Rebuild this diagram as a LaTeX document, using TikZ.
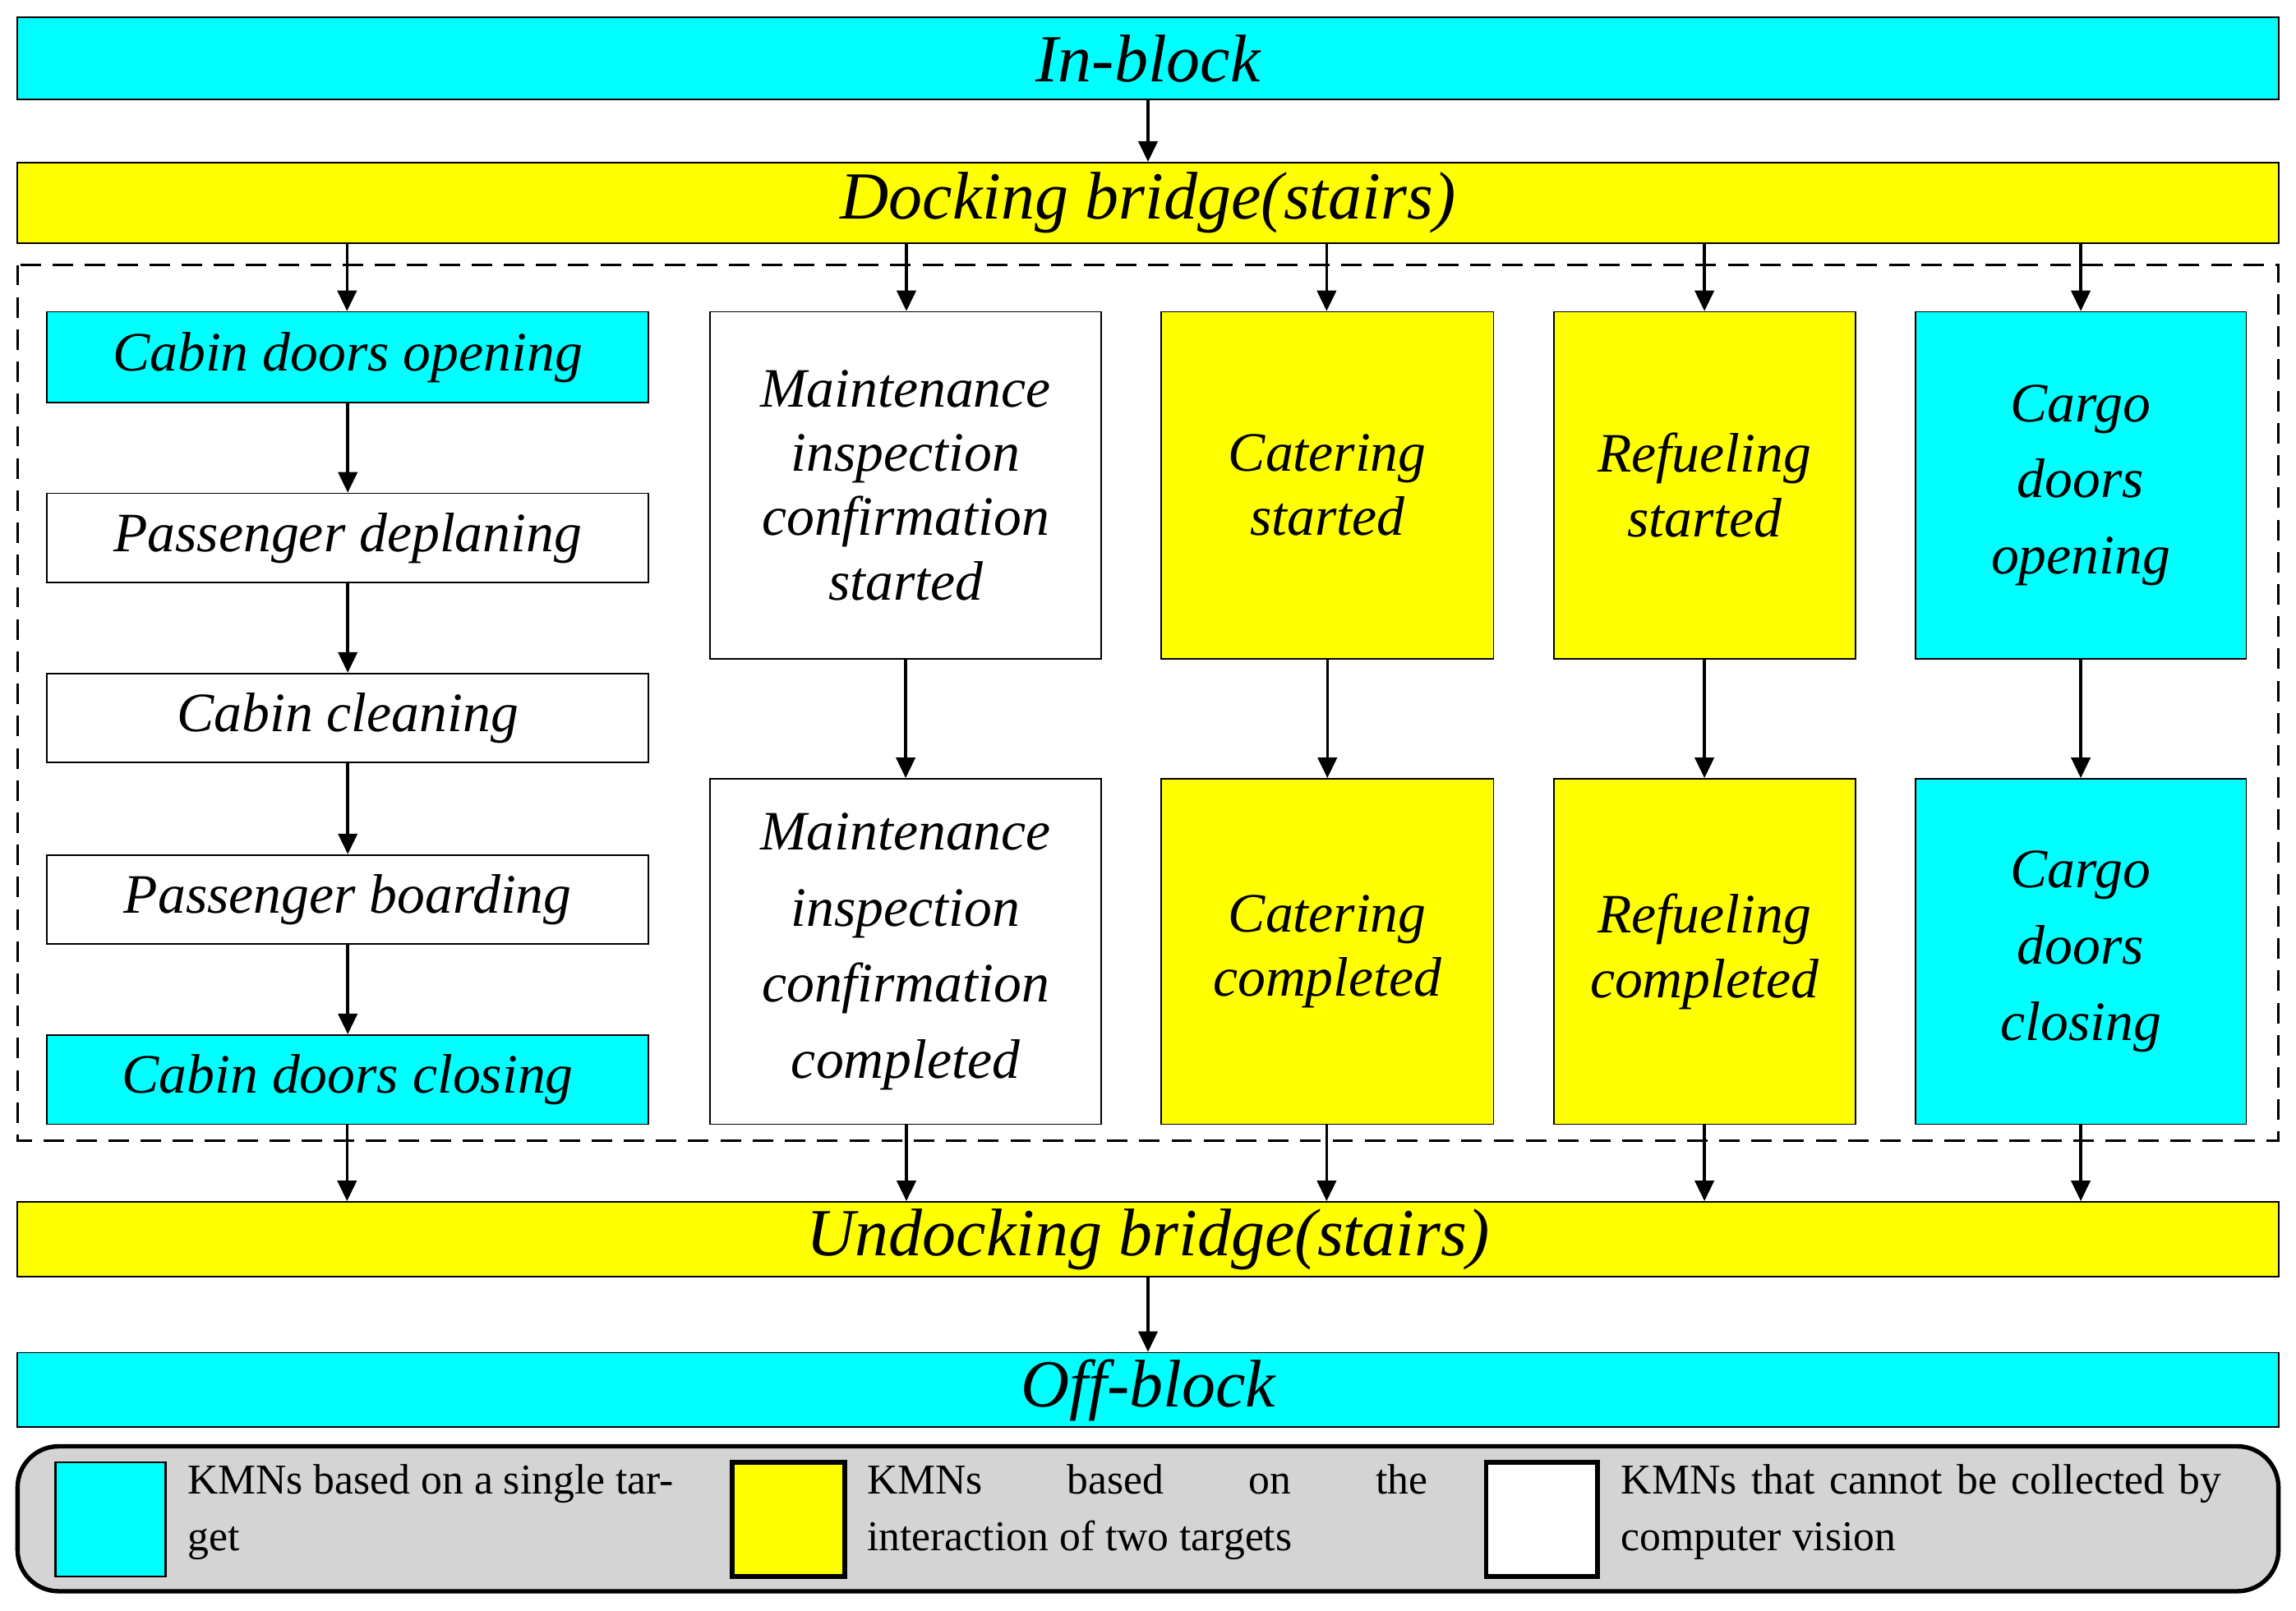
\documentclass[tikz,border=0pt]{standalone}
\usepackage{fontspec}
\setmainfont{Liberation Serif}
\usetikzlibrary{arrows.meta}
\begin{document}
\begin{tikzpicture}[x=1pt,y=-1pt,
 bx/.style={draw,line width=1pt,inner sep=0pt,align=center,font=\fontsize{38}{44}\selectfont\itshape},
 big/.style={bx,font=\fontsize{46}{50}\selectfont\itshape},
 ar/.style={line width=2pt,-{Triangle[length=14pt,width=13pt]}},
 lg/.style={font=\fontsize{29}{39}\selectfont,inner sep=0pt,anchor=north west,text width=#1,align=justify}]
\useasboundingbox (0,0) rectangle (1568,1100);
\definecolor{cy}{RGB}{0,255,255}
\definecolor{yl}{RGB}{255,255,0}
\newcommand\bxn[6]{\node[#1,fill=#2,minimum width=#5-#3,minimum height=12] (#6) at ({(#3+#5)/2},0) {};}
% big bars
\node[big,fill=cy,minimum width=1544,minimum height=56] (inb) at (784,40) {In-block};
\node[big,fill=yl,minimum width=1544,minimum height=55] (dock) at (784,138.5) {Docking bridge(stairs)};
\node[big,fill=yl,minimum width=1544,minimum height=51] (undock) at (784,846.5) {Undocking bridge(stairs)};
\node[big,fill=cy,minimum width=1544,minimum height=51] (off) at (784,949.5) {Off-block};
\draw[dashed,line width=1.8pt,dash pattern=on 14pt off 8pt] (12,181) rectangle (1556,779);
% left column
\node[bx,fill=cy,minimum width=411,minimum height=62] (c1) at (237.5,244) {Cabin doors opening};
\node[bx,fill=white,minimum width=411,minimum height=61] (c2) at (237.5,367.5) {Passenger deplaning};
\node[bx,fill=white,minimum width=411,minimum height=61] (c3) at (237.5,490.5) {Cabin cleaning};
\node[bx,fill=white,minimum width=411,minimum height=61] (c4) at (237.5,614.5) {Passenger boarding};
\node[bx,fill=cy,minimum width=411,minimum height=61] (c5) at (237.5,737.5) {Cabin doors closing};
% other columns
\node[bx,fill=white,minimum width=267,minimum height=237,font=\fontsize{38}{44}\selectfont\itshape] (m1) at (618.5,331.5) {Maintenance\\inspection\\confirmation\\started};
\node[bx,fill=white,minimum width=267,minimum height=236,font=\fontsize{38}{52}\selectfont\itshape] (m2) at (618.5,650) {Maintenance\\inspection\\confirmation\\completed};
\node[bx,fill=yl,minimum width=227,minimum height=237] (k1) at (906.5,331.5) {Catering\\started};
\node[bx,fill=yl,minimum width=227,minimum height=236] (k2) at (906.5,650) {Catering\\completed};
\node[bx,fill=yl,minimum width=206,minimum height=237] (r1) at (1164,331.5) {Refueling\\started};
\node[bx,fill=yl,minimum width=206,minimum height=236] (r2) at (1164,650) {Refueling\\completed};
\node[bx,fill=cy,minimum width=226,minimum height=237,font=\fontsize{38}{52}\selectfont\itshape] (g1) at (1421,331.5) {Cargo\\doors\\opening};
\node[bx,fill=cy,minimum width=226,minimum height=236,font=\fontsize{38}{52}\selectfont\itshape] (g2) at (1421,650) {Cargo\\doors\\closing};
% arrows
\draw[ar] (inb) -- (dock);
\draw[ar] (undock) -- (off);
\foreach \t/\x in {c1/237,m1/619,k1/906,r1/1164,g1/1421}{\draw[ar] (dock.south -| \x,0) -- (\t.north -| \x,0);}
\foreach \t/\x in {c5/237,m2/619,k2/906,r2/1164,g2/1421}{\draw[ar] (\t.south -| \x,0) -- (undock.north -| \x,0);}
\foreach \a/\b in {c1/c2,c2/c3,c3/c4,c4/c5,m1/m2,k1/k2,r1/r2,g1/g2}{\draw[ar] (\a) -- (\b);}
% legend
\node[draw,line width=3pt,fill=black!17,rounded corners=28pt,minimum width=1544,minimum height=99] (leg) at (784,1037.5) {};
\node[draw,line width=1.5pt,fill=cy,minimum width=75,minimum height=78] (s1) at (75.5,1038) {};
\node[draw,line width=3pt,fill=yl,minimum width=77,minimum height=78] (s2) at (538.5,1038) {};
\node[draw,line width=3pt,fill=white,minimum width=76,minimum height=78] (s3) at (1053,1038) {};
\node[lg=332pt] (t1) at (128,1000) {KMNs based on a single target};
\node[lg=383pt] (t2) at (592,1000) {KMNs\hfill based\hfill on\hfill the\\interaction of two targets};
\node[lg=410pt] (t3) at (1107,1000) {KMNs that cannot be collected by computer vision};
\end{tikzpicture}
\end{document}
